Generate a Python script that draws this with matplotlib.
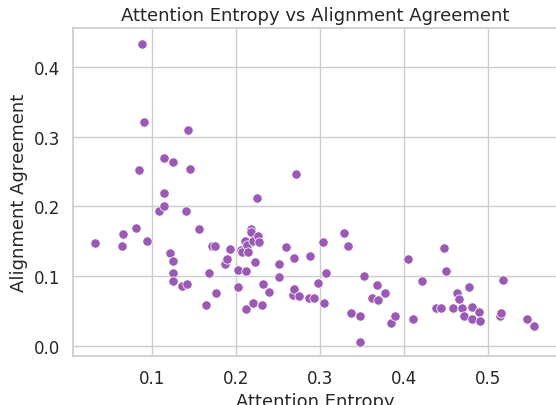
import matplotlib
matplotlib.use("Agg")
import matplotlib.pyplot as plt
import numpy as np
import seaborn as sns

# values
entropy = [0.033, 0.065, 0.066, 0.081, 0.085, 0.089, 0.091, 0.094, 0.109, 0.115,
           0.115, 0.115, 0.122, 0.125, 0.125, 0.125, 0.125, 0.136, 0.142, 0.141,
           0.143, 0.145, 0.156, 0.164, 0.168, 0.172, 0.175, 0.177, 0.187, 0.189,
           0.193, 0.203, 0.203, 0.206, 0.207, 0.211, 0.212, 0.212, 0.213, 0.214,
           0.218, 0.218, 0.221, 0.221, 0.223, 0.225, 0.227, 0.228, 0.231, 0.232,
           0.240, 0.251, 0.252, 0.260, 0.268, 0.269, 0.269, 0.272, 0.275, 0.287,
           0.288, 0.293, 0.298, 0.304, 0.305, 0.307, 0.329, 0.333, 0.337, 0.348,
           0.348, 0.352, 0.362, 0.368, 0.369, 0.377, 0.385, 0.389, 0.405, 0.411,
           0.422, 0.438, 0.444, 0.448, 0.450, 0.458, 0.463, 0.465, 0.469, 0.472,
           0.478, 0.481, 0.481, 0.489, 0.490, 0.514, 0.515, 0.518, 0.547, 0.555]
agreement = [0.148, 0.143, 0.161, 0.169, 0.252, 0.434, 0.321, 0.150, 0.194, 0.201,
             0.219, 0.270, 0.133, 0.264, 0.121, 0.105, 0.093, 0.086, 0.088, 0.194,
             0.310, 0.254, 0.167, 0.058, 0.104, 0.143, 0.143, 0.076, 0.117, 0.124,
             0.139, 0.109, 0.085, 0.138, 0.134, 0.150, 0.108, 0.052, 0.144, 0.135,
             0.168, 0.163, 0.151, 0.061, 0.120, 0.212, 0.158, 0.149, 0.059, 0.089,
             0.077, 0.118, 0.098, 0.142, 0.073, 0.082, 0.126, 0.247, 0.072, 0.069,
             0.129, 0.069, 0.090, 0.149, 0.061, 0.104, 0.162, 0.143, 0.047, 0.043,
             0.006, 0.100, 0.069, 0.087, 0.066, 0.075, 0.033, 0.043, 0.125, 0.038,
             0.093, 0.054, 0.054, 0.141, 0.107, 0.054, 0.075, 0.067, 0.054, 0.043,
             0.084, 0.055, 0.039, 0.048, 0.036, 0.042, 0.047, 0.094, 0.038, 0.028]

sns.set_theme(style="whitegrid", context="notebook")

fig = plt.figure(figsize=(5.56, 4.06), dpi=100)
ax = fig.add_axes([0.1318, 0.1214, 0.8705, 0.8064])  # right spine falls just off the picture

sns.scatterplot(x=entropy, y=agreement, color="#9b59b6", s=45, ax=ax)

ax.set_xlim(0.0067, 0.5825)
ax.set_ylim(-0.0144, 0.456)
ax.set_xticks([0.1, 0.2, 0.3, 0.4, 0.5])
ax.set_yticks([0.0, 0.1, 0.2, 0.3, 0.4])
ax.set_title("Attention Entropy vs Alignment Agreement", fontsize=13)
ax.set_xlabel("Attention Entropy", fontsize=13)
ax.set_ylabel("Alignment Agreement", fontsize=13)
ax.tick_params(labelsize=12)

fig.savefig("out.png", dpi=100)
